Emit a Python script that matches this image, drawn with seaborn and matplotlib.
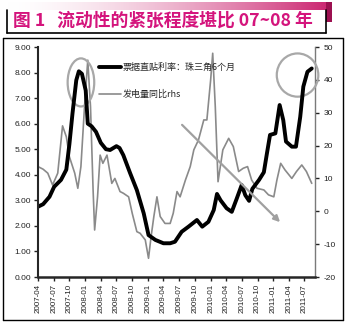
import matplotlib
matplotlib.use("Agg")
import matplotlib.pyplot as plt
from matplotlib.patches import Ellipse, Rectangle
from matplotlib.lines import Line2D
import numpy as np
import pandas as pd
import seaborn as sns

# 票据直贴利率（珠三角6个月），左轴
rate_dates = [
    "2007-04-01", "2007-05-01", "2007-06-07", "2007-07-04", "2007-08-13", "2007-09-13",
    "2007-10-01", "2007-10-19", "2007-11-10", "2007-11-25", "2007-12-13", "2008-01-04",
    "2008-01-16", "2008-02-07", "2008-03-04", "2008-04-01", "2008-05-01", "2008-05-25",
    "2008-07-01", "2008-07-19", "2008-08-10", "2008-09-19", "2008-10-28", "2008-12-07",
    "2009-01-04", "2009-02-13", "2009-04-01", "2009-05-10", "2009-06-07", "2009-07-16",
    "2009-08-25", "2009-10-13", "2009-11-13", "2009-12-19", "2010-01-19", "2010-02-07",
    "2010-02-28", "2010-04-04", "2010-05-04", "2010-06-01", "2010-07-01", "2010-07-22",
    "2010-08-13", "2010-09-01", "2010-10-10", "2010-11-07", "2010-11-25", "2010-12-13",
    "2011-01-13", "2011-02-07", "2011-02-28", "2011-03-16", "2011-04-19", "2011-05-13",
    "2011-06-07", "2011-06-25", "2011-07-19", "2011-08-13",
]
rate_values = [
    2.75, 2.85, 3.14, 3.53, 3.80, 4.20,
    5.20, 6.40, 7.70, 8.05, 7.95, 7.30,
    6.00, 5.90, 5.68, 5.25, 5.00, 4.97,
    5.12, 5.05, 4.77, 4.06, 3.40, 2.49,
    1.64, 1.45, 1.32, 1.32, 1.38, 1.77,
    1.97, 2.23, 1.97, 2.16, 2.62, 3.25,
    3.00, 2.69, 2.55, 3.05, 3.60, 3.20,
    2.98, 3.45, 3.80, 4.10, 4.84, 5.56,
    5.62, 6.73, 6.14, 5.30, 5.10, 5.10,
    6.27, 7.45, 8.03, 8.16,
]

# 发电量同比（%），右轴
power_dates = [
    "2007-04-01", "2007-05-01", "2007-05-28", "2007-06-25", "2007-07-25", "2007-08-22",
    "2007-09-13", "2007-10-01", "2007-11-01", "2007-11-19", "2007-12-07", "2007-12-28",
    "2008-01-16", "2008-02-01", "2008-02-16", "2008-02-25", "2008-03-13", "2008-03-28",
    "2008-04-13", "2008-05-07", "2008-06-04", "2008-06-22", "2008-07-22", "2008-08-10",
    "2008-09-10", "2008-10-01", "2008-10-28", "2008-11-16", "2008-12-16", "2009-01-04",
    "2009-01-19", "2009-02-04", "2009-02-22", "2009-03-13", "2009-04-10", "2009-05-10",
    "2009-05-28", "2009-06-19", "2009-07-07", "2009-08-07", "2009-09-04", "2009-09-25",
    "2009-10-22", "2009-11-22", "2009-12-10", "2010-01-01", "2010-01-13", "2010-01-28",
    "2010-02-13", "2010-03-13", "2010-04-16", "2010-05-13", "2010-06-13", "2010-07-10",
    "2010-08-04", "2010-08-28", "2010-09-28", "2010-11-07", "2010-12-04", "2011-01-04",
    "2011-01-22", "2011-02-13", "2011-03-10", "2011-04-19", "2011-05-16", "2011-06-16",
    "2011-07-13", "2011-08-13",
]
power_values = [
    13.6, 12.8, 11.6, 8.0, 11.6, 26.0,
    22.7, 16.6, 11.6, 7.0, 13.6, 31.8,
    46.0, 31.8, 6.5, -5.7, 4.4, 17.1,
    14.6, 17.1, 8.5, 10.0, 6.0, 5.5,
    4.4, -0.6, -6.2, -6.7, -8.7, -14.3,
    -7.7, -1.6, 4.4, -1.6, -3.7, -3.7,
    -0.6, 6.0, 4.4, 9.5, 13.6, 18.7,
    21.7, 27.8, 27.8, 40.0, 48.1, 31.8,
    9.0, 18.7, 22.2, 19.7, 12.1, 13.1,
    13.6, 9.5, 7.0, 6.5, 5.0, 4.4,
    9.5, 14.6, 12.6, 10.0, 12.1, 14.1,
    12.1, 8.5,
]

left_ticks = [0, 1, 2, 3, 4, 5, 6, 7, 8, 9]
right_ticks = [-20, -10, 0, 10, 20, 30, 40, 50]
title_text = "图 1   流动性的紧张程度堪比 07~08 年"
rate_label = "票据直贴利率：珠三角6个月"
power_label = "发电量同比rhs"

sns.set_style("white")
plt.rcParams["font.family"] = ["Liberation Sans", "Noto Sans CJK SC", "DejaVu Sans"]

rate_df = pd.DataFrame({"date": pd.to_datetime(rate_dates), "value": rate_values})
power_df = pd.DataFrame({"date": pd.to_datetime(power_dates), "value": power_values})

W, H = 346, 327
fig = plt.figure(figsize=(W / 100, H / 100), dpi=100)

def fx(px):
    return px / W

def fy(py):
    return 1 - py / H

# header band: gradient strip, title box, rule line and outer frame
grad = np.linspace(0, 1, 256) ** 1.6
white = np.array([1.0, 1.0, 1.0])
mag = np.array([0.80, 0.16, 0.45])
rgb = white[None, :] * (1 - grad[:, None]) + mag[None, :] * grad[:, None]
gax = fig.add_axes([fx(7), fy(10), fx(326) - fx(7), fy(2) - fy(10)])
gax.imshow(rgb[None, :, :], aspect="auto")
gax.axis("off")
fig.patches.append(Rectangle((fx(326), fy(22)), fx(6), fy(2) - fy(22),
                             transform=fig.transFigure, facecolor="#9c1050",
                             edgecolor="none"))
for xs, ys in [([7, 7], [10, 33]), ([7, 326], [33, 33]), ([326, 326], [10, 33])]:
    fig.add_artist(Line2D([fx(v) for v in xs], [fy(v) for v in ys],
                          transform=fig.transFigure, color="black", lw=1.2))
fig.text(fx(13), fy(22), title_text, fontsize=12.8, fontweight="bold",
         color="#d4147c", va="center", ha="left",
         family=["Noto Sans CJK SC", "DejaVu Sans"])
fig.add_artist(Line2D([fx(3), fx(343)], [fy(38), fy(38)],
                      transform=fig.transFigure, color="black", lw=1.0))
for xs, ys in [([3, 3], [38, 320]), ([3, 343], [320, 320]), ([343, 343], [38, 320])]:
    fig.add_artist(Line2D([fx(v) for v in xs], [fy(v) for v in ys],
                          transform=fig.transFigure, color="black", lw=1.0))

# main axes
ax = fig.add_axes([fx(38), fy(277), fx(315) - fx(38), fy(47) - fy(277)])
ax2 = ax.twinx()

sns.lineplot(data=power_df, x="date", y="value", ax=ax2, color="#8a8a8a",
             lw=1.2, label=power_label, legend=False)
sns.lineplot(data=rate_df, x="date", y="value", ax=ax, color="black",
             lw=2.8, label=rate_label, legend=False)
ax.set_zorder(ax2.get_zorder() + 1)
ax.patch.set_visible(False)

ax.set_xlim(pd.Timestamp("2007-04-01"), pd.Timestamp("2011-09-01"))
ax.set_ylim(0, 9)
ax2.set_ylim(-20, 50)
ax.set_yticks(left_ticks)
ax.set_yticklabels([f"{v:.2f}" for v in left_ticks])
ax2.set_yticks(right_ticks)
ax2.set_yticklabels([str(v) for v in right_ticks])

quarters = pd.date_range("2007-04-01", "2011-07-01", freq="3MS")
ax.set_xticks(quarters)
ax.set_xticklabels([d.strftime("%Y-%m") for d in quarters], rotation=90)
ax.set_xlabel("")
ax.set_ylabel("")
ax2.set_ylabel("")

for a in (ax, ax2):
    a.spines["top"].set_visible(False)
ax.spines["left"].set_linewidth(1.5)
ax.spines["bottom"].set_linewidth(1.8)
ax.spines["right"].set_visible(False)
ax2.spines["left"].set_visible(False)
ax2.spines["bottom"].set_visible(False)
ax2.spines["right"].set_color("#7a7a7a")
ax2.spines["right"].set_linewidth(1.0)

ax.tick_params(axis="y", direction="out", length=3, width=1, labelsize=6,
               left=True, pad=2, colors="#222222")
ax.tick_params(axis="x", direction="out", length=3, width=1, labelsize=5.8,
               bottom=True, pad=2, colors="#222222")
ax2.tick_params(axis="y", direction="out", length=3, width=1, labelsize=6,
                right=True, pad=3, colors="#222222")

# legend
handles = [Line2D([], [], color="black", lw=2.8),
           Line2D([], [], color="#8a8a8a", lw=1.2)]
leg = ax.legend(handles, [rate_label, power_label], loc="upper left",
                bbox_to_anchor=(fx(99), fy(63)), bbox_transform=fig.transFigure,
                frameon=False, handlelength=2.4, handletextpad=0.2,
                labelspacing=2.0, borderpad=0, borderaxespad=0,
                prop={"family": ["Noto Sans CJK SC", "DejaVu Sans"], "size": 6.5})

# highlight circles and trend arrow
ax.add_patch(Ellipse((0.155, 0.846), 0.096, 0.209, transform=ax.transAxes,
                     fill=False, edgecolor="#a8a8a8", lw=1.6, clip_on=False))
ax.add_patch(Ellipse((0.937, 0.878), 0.150, 0.188, transform=ax.transAxes,
                     fill=False, edgecolor="#a8a8a8", lw=1.6, clip_on=False))
ax.annotate("", xy=(0.881, 0.23), xytext=(0.513, 0.67), xycoords="axes fraction",
            arrowprops=dict(arrowstyle="-|>", color="#a0a0a0", lw=1.6,
                            mutation_scale=9))

fig.savefig("out.png", dpi=100)
